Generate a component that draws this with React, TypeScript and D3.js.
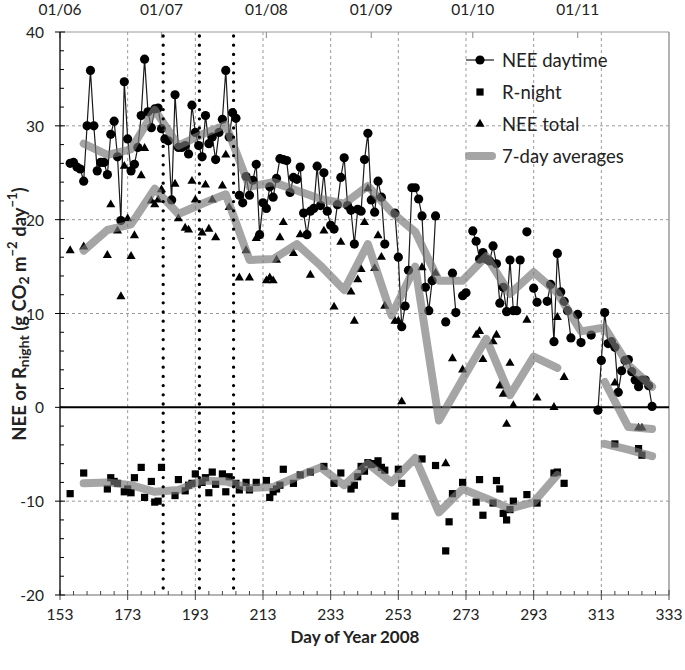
import React from "react";
import * as d3 from "d3";

// [day of year, value]
const neeDaytime: [number, number][] = [
  [156, 26.0], [157, 26.1], [158, 25.6], [159, 25.4], [160, 24.1], [161, 30.0], [162, 35.9], [163, 30.0],
  [164, 25.2], [165, 26.1], [166, 26.1], [167, 24.8], [168, 29.1], [169, 30.5], [170, 26.7], [171, 19.9],
  [172, 34.7], [173, 28.6], [174, 25.2], [175, 25.9], [176, 27.7], [177, 31.1], [178, 37.1], [179, 31.5],
  [180, 29.8], [181, 31.8], [182, 31.9], [183, 29.7], [184, 28.6], [185, 28.4], [186, 22.1], [187, 33.3],
  [188, 27.7], [189, 27.7], [190, 27.9], [191, 27.0], [192, 32.2], [193, 29.3], [194, 27.9], [195, 26.7],
  [196, 31.1], [197, 28.1], [198, 28.8], [199, 26.4], [200, 29.3], [201, 30.7], [202, 35.9], [203, 28.8],
  [204, 31.4], [205, 30.8], [206, 22.6], [207, 21.8], [208, 24.6], [209, 22.6], [210, 24.2], [211, 25.9],
  [212, 18.4], [213, 21.8], [214, 21.2], [215, 23.5], [216, 22.4], [217, 24.4], [218, 26.5], [219, 26.4],
  [220, 26.3], [221, 22.9], [222, 24.5], [223, 24.3], [224, 25.6], [225, 20.7], [226, 18.4], [227, 20.9],
  [228, 21.2], [229, 25.7], [230, 21.5], [231, 25.0], [232, 20.9], [233, 19.4], [234, 19.0], [235, 21.6],
  [236, 24.5], [237, 26.6], [238, 21.5], [239, 21.0], [240, 17.4], [241, 21.1], [242, 20.9], [243, 26.4],
  [244, 29.2], [245, 22.1], [246, 20.8], [247, 24.1], [248, 22.4], [249, 17.4], [252, 20.7], [253, 16.0],
  [254, 8.6], [255, 10.8], [256, 14.6], [257, 23.4], [258, 23.4], [259, 22.2], [260, 20.4], [261, 12.8],
  [262, 10.3], [263, 13.5], [264, 20.4], [267, 9.1], [269, 14.3], [270, 10.1], [272, 11.9], [273, 12.2],
  [275, 18.8], [276, 17.7], [277, 15.8], [278, 16.5], [279, 15.8], [280, 15.6], [281, 17.2], [282, 15.3],
  [283, 11.1], [284, 12.8], [285, 10.2], [286, 15.7], [287, 10.3], [288, 10.3], [289, 15.7], [291, 18.7],
  [293, 12.7], [294, 11.2], [297, 11.3], [298, 13.1], [299, 7.0], [300, 16.4], [301, 12.3], [302, 11.3],
  [303, 10.3], [304, 7.4], [306, 9.9], [307, 6.9], [310, 7.7], [312, -0.3], [313, 5.0], [314, 10.1],
  [315, 6.8], [316, 7.0], [317, 6.4], [318, 1.6], [319, 3.9], [320, 5.0], [321, 5.1], [322, 3.8],
  [323, 2.9], [324, 2.2], [325, 2.9], [326, 2.9], [327, 2.3], [328, 0.1],
];

const rNight: [number, number][] = [
  [156, -9.2], [160, -7.0], [167, -8.7], [168, -7.5], [169, -7.9], [170, -8.1], [172, -9.0], [173, -8.7],
  [174, -9.1], [175, -7.5], [177, -6.4], [178, -9.6], [180, -7.9], [181, -10.1], [182, -10.0], [183, -6.4],
  [187, -9.4], [188, -7.7], [190, -8.9], [191, -8.3], [192, -8.1], [193, -7.1], [195, -8.0], [196, -7.5],
  [197, -9.1], [198, -6.9], [199, -8.2], [201, -7.1], [202, -9.0], [203, -7.4], [205, -8.1], [206, -8.8],
  [208, -8.0], [209, -8.8], [211, -8.0], [214, -7.8], [215, -9.6], [216, -9.0], [217, -8.7], [218, -8.3],
  [219, -6.6], [222, -8.1], [224, -7.2], [227, -6.9], [231, -6.3], [234, -8.1], [236, -7.0], [239, -8.7],
  [240, -8.3], [241, -7.4], [242, -6.3], [243, -6.8], [244, -5.9], [245, -6.1], [246, -6.0], [247, -5.7],
  [248, -6.4], [249, -6.7], [252, -11.6], [253, -6.6], [254, -8.1], [260, -5.5], [264, -6.2], [267, -15.3],
  [268, -12.2], [269, -9.2], [272, -8.0], [276, -10.1], [277, -7.7], [278, -11.5], [281, -10.2], [282, -7.8],
  [283, -8.7], [284, -11.3], [285, -12.0], [286, -10.9], [287, -10.0], [291, -9.3], [294, -10.2], [299, -7.0],
  [300, -6.9], [302, -8.1], [317, -3.9], [324, -4.4], [325, -5.1],
];

const neeTotal: [number, number][] = [
  [156, 16.7], [160, 17.1], [167, 16.2], [168, 21.6], [170, 18.8], [171, 11.8], [172, 25.7], [173, 20.1],
  [174, 16.1], [175, 18.3], [177, 24.7], [178, 27.6], [180, 22.0], [181, 21.6], [182, 22.1], [183, 23.2],
  [187, 23.8], [188, 20.1], [190, 19.1], [191, 18.9], [192, 24.1], [193, 22.1], [195, 18.6], [196, 23.7],
  [197, 19.0], [198, 22.1], [199, 18.1], [201, 23.6], [202, 26.9], [203, 21.3], [206, 13.8], [208, 16.7],
  [209, 13.8], [211, 18.0], [214, 13.5], [215, 13.8], [216, 13.5], [217, 15.7], [218, 18.1], [219, 19.7],
  [222, 16.4], [224, 18.4], [227, 14.1], [231, 18.8], [234, 10.7], [236, 17.6], [239, 12.3], [240, 9.2],
  [241, 13.6], [242, 14.7], [243, 19.7], [244, 23.3], [246, 14.8], [247, 18.3], [248, 16.0], [249, 10.8],
  [252, 9.2], [253, 9.2], [254, 0.6], [260, 14.9], [264, 14.3], [267, -6.0], [269, 5.2], [272, 4.0],
  [276, 7.7], [277, 8.1], [278, 5.1], [281, 7.0], [282, 7.7], [283, 2.3], [284, 1.4], [285, -1.8],
  [286, 4.7], [287, 0.2], [291, 9.3], [294, 1.0], [299, 0.0], [300, 9.6], [302, 3.2], [317, 2.6],
  [324, -2.2], [325, -2.2],
];

const avgDays = [160, 167, 174, 181, 188, 195, 202, 209, 216, 223, 230, 237, 244, 251, 258, 265, 272, 279, 286, 293, 300, 307, 314, 321, 328];
const avgDaytime = [28.1, 26.9, 27.5, 31.7, 27.9, 29.1, 30.1, 23.5, 24.0, 23.1, 22.2, 21.7, 23.6, 20.8, 18.7, 13.5, 13.5, 16.1, 12.1, 14.4, 12.2, 8.1, 8.5, 4.5, 2.2];
const avgTotal: (number | null)[] = [16.7, 18.9, 19.5, 23.3, 20.6, 21.7, 22.7, 15.7, 15.8, 17.4, 15.1, 12.5, 17.4, 9.8, 15.0, -1.4, 3.0, 7.3, 1.3, 5.4, 4.2, null, 2.7, -2.1, -2.3];
const avgNight: (number | null)[] = [-8.1, -8.0, -8.3, -9.0, -8.8, -7.8, -7.9, -8.6, -8.5, -7.4, -6.4, -8.3, -6.0, -8.0, -5.4, -11.2, -8.7, -9.7, -10.8, -10.1, -7.2, null, -3.9, -4.5, -5.2];

const xTicks = [153, 173, 193, 213, 233, 253, 273, 293, 313, 333];
const yTicks = [-20, -10, 0, 10, 20, 30, 40];
const monthDays = [153, 183, 214, 245, 275, 306];
const monthLabels = ["01/06", "01/07", "01/08", "01/09", "01/10", "01/11"];
const eventDays = [183.5, 194.2, 204.3];

const FONT = "Lato, 'Open Sans', sans-serif";

export default function App() {
  const W = 685, H = 670;
  const L = 60, R = 669, T = 32, B = 595;
  const x = d3.scaleLinear().domain([153, 333]).range([L, R]);
  const y = d3.scaleLinear().domain([-20, 40]).range([B, T]);

  // daytime line with gaps for missing days
  const withGaps: ([number, number] | null)[] = [];
  neeDaytime.forEach((d, i) => {
    if (i > 0 && d[0] - neeDaytime[i - 1][0] > 1) withGaps.push(null);
    withGaps.push(d);
  });
  const dayLine = d3
    .line<[number, number] | null>()
    .defined((d) => d !== null)
    .x((d) => x((d as [number, number])[0]))
    .y((d) => y((d as [number, number])[1]));

  const avgLine = d3
    .line<number | null>()
    .defined((d) => d !== null)
    .x((_, i) => x(avgDays[i]))
    .y((d) => y(d as number));

  const sq = d3.symbol(d3.symbolSquare, 52)()!;
  const tri = d3.symbol(d3.symbolTriangle, 36)()!;

  const minorY = d3.range(-20, 41, 2).filter((v) => v % 10 !== 0);
  const minorX = d3.range(153, 334, 4).filter((v) => (v - 153) % 20 !== 0);
  const gridY = [30, 20, 10, -10];
  const gridX = xTicks.slice(1, -1);

  const avgStyle = {
    fill: "none",
    stroke: "rgb(118,118,118)",
    strokeOpacity: 0.66,
    strokeWidth: 8,
    strokeLinecap: "round" as const,
    strokeLinejoin: "round" as const,
  };

  return (
    <div style={{ position: "absolute", left: 0, top: 0 }}>
      <svg width={W} height={H} style={{ display: "block", background: "#fff" }} fontFamily={FONT}>
        {/* grid */}
        {gridY.map((v) => (
          <line key={"gy" + v} x1={L} x2={R} y1={y(v)} y2={y(v)} stroke="#9a9a9a" strokeWidth={1} strokeDasharray="3,3" />
        ))}
        {gridX.map((v) => (
          <line key={"gx" + v} x1={x(v)} x2={x(v)} y1={T} y2={B} stroke="#9a9a9a" strokeWidth={1} strokeDasharray="3,3" />
        ))}
        {/* frame */}
        <line x1={L} x2={R} y1={T} y2={T} stroke="#9a9a9a" strokeWidth={1.2} />
        <line x1={R} x2={R} y1={T} y2={B} stroke="#9a9a9a" strokeWidth={1.5} />
        <line x1={L} x2={R} y1={B} y2={B} stroke="#6a6a6a" strokeWidth={1.2} />
        {/* top month ticks */}
        {monthDays.map((d, i) => (
          <g key={"m" + d}>
            <line x1={x(d)} x2={x(d)} y1={T} y2={T + 6} stroke="#9a9a9a" strokeWidth={1.2} />
            <text x={x(d)} y={9} textAnchor="middle" dominantBaseline="central" fontSize={15.5} fill="#222">
              {monthLabels[i]}
            </text>
          </g>
        ))}
        {/* bottom ticks */}
        {minorX.map((d) => (
          <line key={"mx" + d} x1={x(d)} x2={x(d)} y1={B} y2={B - 4} stroke="#444" strokeWidth={1} />
        ))}
        {xTicks.map((d) => (
          <g key={"xt" + d}>
            <line x1={x(d)} x2={x(d)} y1={B - 5} y2={B + 5} stroke="#444" strokeWidth={1} />
            <text x={x(d)} y={614} textAnchor="middle" dominantBaseline="central" fontSize={15.5} fill="#222">
              {d}
            </text>
          </g>
        ))}
        {/* zero line */}
        <line x1={L} x2={R} y1={y(0)} y2={y(0)} stroke="#000" strokeWidth={2} />
        {/* left axis */}
        <line x1={L} x2={L} y1={T} y2={B} stroke="#000" strokeWidth={1.3} />
        {minorY.map((v) => (
          <line key={"my" + v} x1={L} x2={L + 4} y1={y(v)} y2={y(v)} stroke="#000" strokeWidth={1} />
        ))}
        {yTicks.map((v) => (
          <g key={"yt" + v}>
            <line x1={L - 5} x2={L + 5} y1={y(v)} y2={y(v)} stroke="#000" strokeWidth={1} />
            <text x={44} y={y(v)} textAnchor="end" dominantBaseline="central" fontSize={15.5} fill="#222">
              {v}
            </text>
          </g>
        ))}

        {/* NEE daytime */}
        <path d={dayLine(withGaps) || ""} fill="none" stroke="#1a1a1a" strokeWidth={1.2} />
        {neeDaytime.map((d, i) => (
          <circle key={"c" + i} cx={x(d[0])} cy={y(d[1])} r={4.6} fill="#000" />
        ))}
        {/* R-night */}
        {rNight.map((d, i) => (
          <path key={"s" + i} d={sq} transform={`translate(${x(d[0])},${y(d[1])})`} fill="#000" />
        ))}
        {/* NEE total */}
        {neeTotal.map((d, i) => (
          <path key={"t" + i} d={tri} transform={`translate(${x(d[0])},${y(d[1])})`} fill="#000" />
        ))}
        {/* 7-day averages */}
        <path d={avgLine(avgDaytime) || ""} {...avgStyle} />
        <path d={avgLine(avgTotal) || ""} {...avgStyle} />
        <path d={avgLine(avgNight) || ""} {...avgStyle} />

        {/* event dotted lines */}
        {eventDays.map((d) => (
          <line key={"e" + d} x1={x(d)} x2={x(d)} y1={T + 4} y2={B} stroke="#000" strokeWidth={3.3} strokeDasharray="0,9.2" strokeLinecap="round" />
        ))}

        {/* legend */}
        <g fontSize={18.5} fill="#222">
          <line x1={466} x2={494} y1={60} y2={60} stroke="#1a1a1a" strokeWidth={1.2} />
          <circle cx={480} cy={60} r={4.6} fill="#000" />
          <text x={502} y={60} dominantBaseline="central">NEE daytime</text>
          <path d={sq} transform="translate(480,92)" fill="#000" />
          <text x={502} y={92} dominantBaseline="central">R-night</text>
          <path d={tri} transform="translate(480,124)" fill="#000" />
          <text x={502} y={124} dominantBaseline="central">NEE total</text>
          <line x1={469} x2={492} y1={156} y2={156} {...avgStyle} />
          <text x={502} y={156} dominantBaseline="central">7-day averages</text>
        </g>

        {/* axis titles */}
        <text x={355} y={636} textAnchor="middle" dominantBaseline="central" fontSize={17} fontWeight="bold" fill="#222">
          Day of Year 2008
        </text>
        <text transform="translate(19,314) rotate(-90)" textAnchor="middle" dominantBaseline="central" fontSize={18.5} fontWeight="bold" fill="#222">
          NEE or R
          <tspan fontSize={14} dy={4}>night</tspan>
          <tspan dy={-4}> (g CO</tspan>
          <tspan fontSize={14} dy={4}>2</tspan>
          <tspan dy={-4}> m</tspan>
          <tspan fontSize={13} dy={-7}>−2</tspan>
          <tspan dy={7}> day</tspan>
          <tspan fontSize={13} dy={-7}>−1</tspan>
          <tspan dy={7}>)</tspan>
        </text>
      </svg>
    </div>
  );
}
